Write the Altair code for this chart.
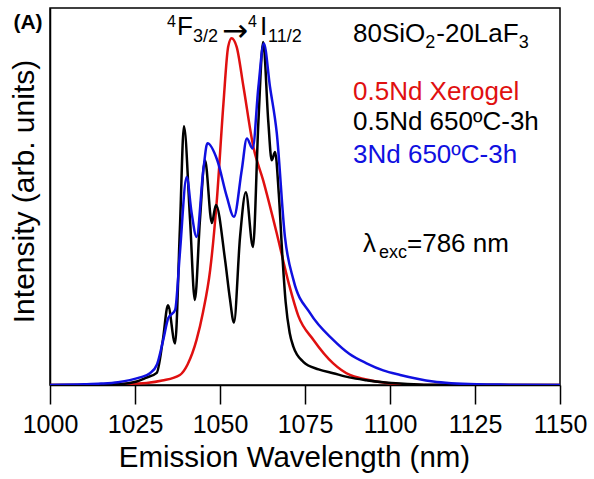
import altair as alt
import pandas as pd

# ---------------- data ----------------
red_x = [1000, 1010, 1020, 1025, 1028.4, 1033, 1038.2, 1040.5, 1043.1, 1045, 1047.1, 1049, 1051,
         1052.4, 1053.4, 1054.9, 1056.9, 1059.8, 1062.7, 1066.7, 1070.3, 1073, 1077.5, 1083.3,
         1088.2, 1092, 1096, 1103, 1110, 1150]
red_y = [0, 0, 0.002, 0.004, 0.006, 0.013, 0.029, 0.06, 0.13, 0.21, 0.331, 0.524, 0.81,
         0.975, 1.0, 0.975, 0.86, 0.687, 0.59, 0.437, 0.29, 0.2, 0.13, 0.0625,
         0.029, 0.018, 0.01, 0.002, 0, 0]

black_x = [1000, 1015, 1020, 1023, 1025.5, 1028, 1031.4, 1033.2, 1034.7, 1036.8, 1038.2, 1039.4,
           1041.2, 1042.6, 1044.1, 1045.6, 1047.6, 1048.8, 1051.5, 1052.9, 1054.1, 1055.9, 1057.6,
           1059.7, 1061.3, 1062.7, 1064.2, 1065.2, 1066.2, 1067.3, 1068.3, 1069.3, 1070.5, 1071.6,
           1074.5, 1079, 1083.3, 1088, 1093, 1098, 1103, 1110, 1150]
black_y = [0, 0, 0.002, 0.005, 0.01, 0.02, 0.035, 0.13, 0.23, 0.12, 0.45, 0.746,
           0.475, 0.245, 0.475, 0.648, 0.467, 0.519, 0.36, 0.25, 0.18, 0.427, 0.556,
           0.398, 0.76, 0.989, 0.76, 0.648, 0.672, 0.55, 0.38, 0.24, 0.15, 0.11,
           0.067, 0.045, 0.034, 0.022, 0.014, 0.008, 0.004, 0.001, 0]

blue_x = [1000, 1010, 1015, 1020, 1023.5, 1026.5, 1029.4, 1031.5, 1033.3, 1034.8, 1036.8, 1038.2,
          1040.2, 1041.6, 1043.1, 1045.1, 1046.3, 1049.2, 1052, 1054.1, 1056.4, 1057.9, 1059.6,
          1061.3, 1062.9, 1064.7, 1066.7, 1069.1, 1071.6, 1076.5, 1083.3, 1088, 1093.1, 1098,
          1103, 1108, 1112.7, 1118, 1125.5, 1135, 1150]
blue_y = [0, 0.002, 0.004, 0.008, 0.014, 0.022, 0.034, 0.06, 0.13, 0.193, 0.216, 0.38,
          0.60, 0.5, 0.427, 0.62, 0.697, 0.648, 0.543, 0.485, 0.62, 0.711, 0.682,
          0.86, 0.985, 0.86, 0.726, 0.427, 0.303, 0.207, 0.13, 0.09, 0.0625, 0.042,
          0.029, 0.018, 0.01, 0.005, 0.002, 0.001, 0]

x_ticks = [1000, 1025, 1050, 1075, 1100, 1125, 1150]
series_names = ["0.5Nd Xerogel", "0.5Nd 650ºC-3h", "3Nd 650ºC-3h"]
series_colors = ["#e01010", "#000000", "#1010e0"]

# ---------------- geometry ----------------
W, H = 510, 377
PAD_L, PAD_T = 50, 8
X_DOM = [1000, 1150]
Y_DOM = [0, 1.087]
PX_NM = W / (X_DOM[1] - X_DOM[0])
PX_I = H / (Y_DOM[1] - Y_DOM[0])
FONT = "Liberation Sans"

ARIAL = {'0': .556, '1': .556, '2': .556, '3': .556, '8': .556, '.': .278, 'S': .667, 'i': .222,
         'O': .778, '-': .333, 'L': .556, 'a': .556, 'F': .611}


def text_w(s, size):
    return sum(ARIAL.get(c, .556) for c in s) * size


def ax(px):
    return X_DOM[0] + (px - PAD_L) / PX_NM


def ay(py):
    return (PAD_T + H - py) / PX_I


MAIN, SUB, SUP = 26, 18, 16

# composition label, pieces placed one after another
comp = []
cx = 353
for t, sz, base in [("80SiO", MAIN, 42), ("2", SUB, 48), ("-20LaF", MAIN, 42), ("3", SUB, 48)]:
    comp.append((t, cx, base, sz, "black"))
    cx += text_w(t, sz) + (1 if sz == SUB else 0)

# (text, left px, baseline px, size, colour)
pieces = [
    ("4", 167, 27, SUP, "black"), ("F", 177, 35, MAIN, "black"), ("3/2", 193, 42, SUB, "black"),
    ("4", 248, 27, SUP, "black"), ("I", 260, 35, MAIN, "black"), ("11/2", 268, 42, SUB, "black"),
    *comp,
    (series_names[0], 353, 100, MAIN, series_colors[0]),
    (series_names[1], 353, 130, MAIN, series_colors[1]),
    (series_names[2], 353, 163, MAIN, series_colors[2]),
    ("λ", 363, 252, MAIN, "black"), ("exc", 379, 258, SUB, "black"),
    ("=786 nm", 407, 252, MAIN, "black"),
]
ann = pd.DataFrame([dict(t=t, x=ax(px), y=ay(py), size=s, color=c) for t, px, py, s, c in pieces])

xs = alt.X("x:Q", scale=alt.Scale(domain=X_DOM, nice=False, zero=False),
           axis=alt.Axis(values=x_ticks, format="d", title="Emission Wavelength (nm)", grid=False,
                         tickSize=19, tickWidth=1.5, tickColor="black", domainColor="black",
                         domainWidth=1.5, labelFontSize=25, labelFont=FONT, labelColor="black",
                         labelPadding=8, labelFlush=False, titleFont=FONT, titleFontSize=29.5,
                         titleFontWeight="normal", titleColor="black", titlePadding=6,
                         titleX=244))
ys = alt.Y("y:Q", scale=alt.Scale(domain=Y_DOM, nice=False, zero=False),
           axis=alt.Axis(title="Intensity (arb. units)", grid=False, ticks=False, labels=False,
                         domainColor="black", domainWidth=1.5, titleFont=FONT, titleFontSize=30,
                         titleFontWeight="normal", titleColor="black", titlePadding=11,
                         titleY=183))


def line(xv, yv, col):
    df = pd.DataFrame({"x": xv, "y": yv})
    return alt.Chart(df).mark_line(color=col, strokeWidth=2.5, interpolate="monotone",
                                   clip=True).encode(x=xs, y=ys)


layers = [line(red_x, red_y, series_colors[0]),
          line(black_x, black_y, series_colors[1]),
          line(blue_x, blue_y, series_colors[2])]

txt = alt.Chart(ann).mark_text(align="left", baseline="alphabetic", font=FONT).encode(
    x=alt.X("x:Q"), y=alt.Y("y:Q"), text="t:N",
    size=alt.Size("size:Q", scale=None, legend=None),
    color=alt.Color("color:N", scale=None, legend=None))

arrow = pd.DataFrame({"x": [ax(222)], "y": [ay(41)], "t": ["→"]})
atxt = alt.Chart(arrow).mark_text(align="left", baseline="alphabetic", font="DejaVu Sans",
                                  fontSize=31, color="black").encode(x="x:Q", y="y:Q", text="t:N")

panel = pd.DataFrame({"x": [ax(28)], "y": [ay(29)], "t": ["(A)"]})
ptxt = alt.Chart(panel).mark_text(align="center", baseline="alphabetic", font=FONT,
                                  fontWeight="bold", fontSize=21, color="black").encode(
    x="x:Q", y="y:Q", text="t:N")

chart = alt.layer(*layers, txt, atxt, ptxt).properties(
    width=W, height=H,
    autosize=alt.AutoSizeParams(type="none"),
    padding={"left": PAD_L, "top": PAD_T, "right": 34, "bottom": 94},
    background="white",
).configure_view(stroke="black", strokeWidth=1.5)

chart.save("out.html", embed_options={"renderer": "svg", "actions": False})
